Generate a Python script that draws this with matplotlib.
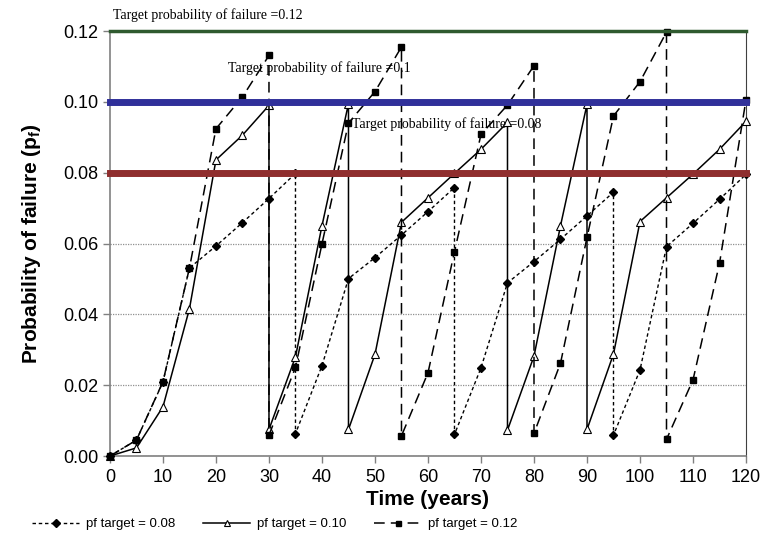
import matplotlib
matplotlib.use('Agg')
import matplotlib.pyplot as plt

# time (years) and probability of failure for each target pf
# repeated x values are the repair points (vertical drops)
years_08 = [0, 5, 10, 15, 20, 25, 30, 35, 35, 40, 45, 50, 55, 60, 65, 65, 70, 75, 80, 85,
            90, 95, 95, 100, 105, 110, 115, 120]
pf_08 = [0, 0.0045, 0.0209, 0.0531, 0.0593, 0.0659, 0.0727, 0.0798, 0.0063, 0.0255, 0.0501,
         0.0560, 0.0624, 0.0690, 0.0758, 0.0061, 0.0249, 0.0489, 0.0549, 0.0612, 0.0678,
         0.0745, 0.0059, 0.0243, 0.0591, 0.0657, 0.0725, 0.0795]

years_10 = [0, 5, 10, 15, 20, 25, 30, 30, 35, 40, 45, 45, 50, 55, 60, 65, 70, 75, 75, 80,
            85, 90, 90, 95, 100, 105, 110, 115, 120]
pf_10 = [0, 0.0023, 0.0139, 0.0416, 0.0836, 0.0906, 0.0990, 0.0075, 0.0280, 0.0650, 0.0995,
         0.0075, 0.0287, 0.0660, 0.0729, 0.0798, 0.0866, 0.0942, 0.0073, 0.0282, 0.0650,
         0.0993, 0.0075, 0.0288, 0.0662, 0.0729, 0.0796, 0.0866, 0.0945]

years_12 = [0, 5, 10, 15, 20, 25, 30, 30, 35, 40, 45, 50, 55, 55, 60, 65, 70, 75, 80, 80,
            85, 90, 95, 100, 105, 105, 110, 115, 120]
pf_12 = [0, 0.0045, 0.0210, 0.0531, 0.0924, 0.1014, 0.1131, 0.0059, 0.0250, 0.0599, 0.0940,
         0.1029, 0.1155, 0.0057, 0.0235, 0.0577, 0.0908, 0.0991, 0.1102, 0.0064, 0.0262,
         0.0617, 0.0960, 0.1057, 0.1197, 0.0047, 0.0215, 0.0544, 0.1006]

targets = [0.08, 0.10, 0.12]
target_colors = ['#8f2e2e', '#30309a', '#2f5a2f']
target_widths = [5, 5, 2.5]
target_texts = ['Target probability of failure =0.08',
                'Target probability of failure =0.1',
                'Target probability of failure =0.12']
text_pos = [(45.7, 0.0938), (22.3, 0.1096), (0.6, 0.1245)]

sans = 'Liberation Sans'
serif = 'Liberation Serif'

fig = plt.figure(figsize=(7.61, 5.46), dpi=100)
ax = fig.add_axes([0.1445, 0.1648, 0.8358, 0.7784])

ax.plot(years_08, pf_08, color='black', lw=1, ls=(0, (2.5, 2)), marker='D', ms=4.5,
        mfc='black', mec='black', label='pf target = 0.08', clip_on=False, zorder=4)
ax.plot(years_10, pf_10, color='black', lw=1.1, ls='-', marker='^', ms=6,
        mfc='white', mec='black', mew=0.8, label='pf target = 0.10', clip_on=False, zorder=4)
ax.plot(years_12, pf_12, color='black', lw=1.1, ls=(0, (7, 4)), marker='s', ms=4.5,
        mfc='black', mec='black', label='pf target = 0.12', clip_on=False, zorder=4)

# target lines
for t, c, w in zip(targets, target_colors, target_widths):
    ax.axhline(t, color=c, lw=w, zorder=5, clip_on=False)

for txt, (tx, ty) in zip(target_texts, text_pos):
    ax.text(tx, ty, txt, family=serif, fontsize=10, va='center', ha='left', zorder=6,
            clip_on=False)

ax.set_xlim(0, 120)
ax.set_ylim(0, 0.12)
ax.set_xticks(range(0, 121, 10))
ax.set_yticks([0, 0.02, 0.04, 0.06, 0.08, 0.10, 0.12])
ax.set_yticklabels(['0.00', '0.02', '0.04', '0.06', '0.08', '0.10', '0.12'])
ax.yaxis.grid(True, ls=(0, (1, 1)), color='#909090', lw=0.9)
ax.set_axisbelow(True)

for lab in ax.get_xticklabels() + ax.get_yticklabels():
    lab.set_family(sans)
    lab.set_fontsize(13)
ax.tick_params(axis='both', direction='out', length=5, color='#808080', width=1)
ax.tick_params(axis='x', pad=4)

ax.spines['top'].set_visible(False)
ax.spines['left'].set_color('#808080')
ax.spines['bottom'].set_color('#808080')
ax.spines['left'].set_linewidth(1.2)
ax.spines['bottom'].set_linewidth(1.2)
ax.spines['right'].set_color('#404040')
ax.spines['right'].set_linewidth(0.8)

ax.set_xlabel('Time (years)', family=sans, fontsize=15, fontweight='bold', labelpad=3)
ax.set_ylabel('Probability of failure (p$_\\mathregular{f}$)', family=sans, fontsize=15,
              fontweight='bold', labelpad=14)

fig.legend(loc='center left', bbox_to_anchor=(0.035, 0.04), ncol=3, frameon=False,
           prop={'family': sans, 'size': 9.5}, handlelength=3.6, columnspacing=2.1,
           handletextpad=0.5, borderaxespad=0, markerscale=0.8)

fig.savefig('out.png', dpi=100)
